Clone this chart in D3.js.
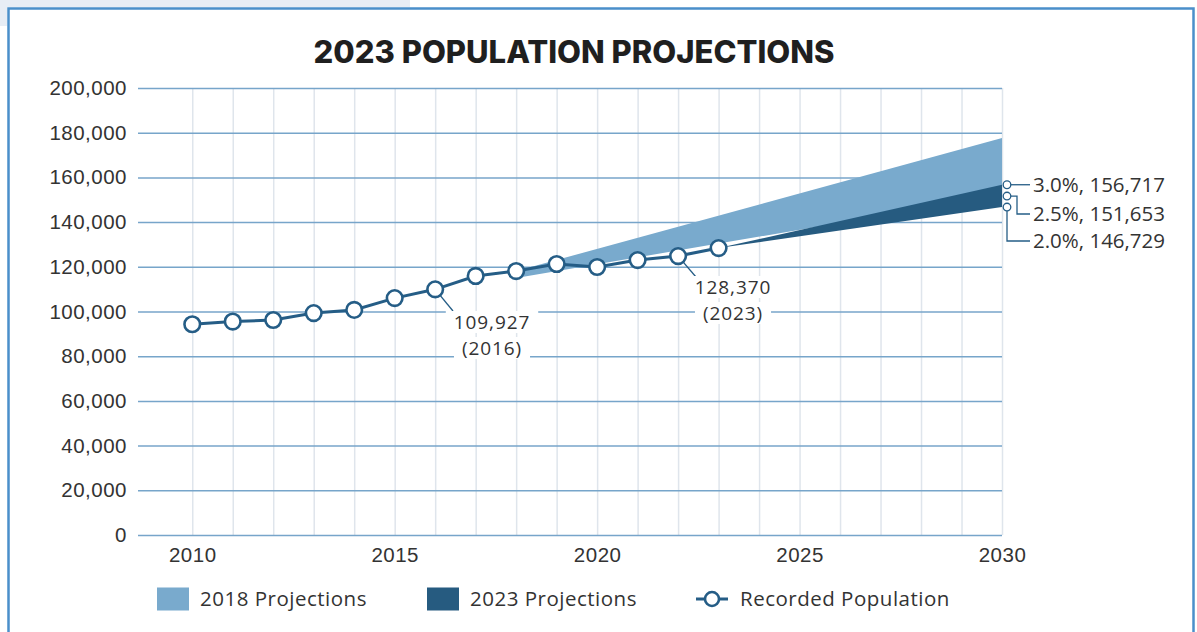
<!DOCTYPE html>
<html>
<head>
<meta charset="utf-8">
<title>2023 Population Projections</title>
<script src="https://d3js.org/d3.v7.min.js"></script>
<style>
  body, html { margin: 0; padding: 0; background: #fff; }
  svg { display: block; font-family: "Open Sans", sans-serif; }
  .lbl, .tick text { fill: #333; font-size: 20.5px; letter-spacing: 0.5px; }
  .note { fill: #333; font-size: 19px; letter-spacing: 0.9px; }
</style>
</head>
<body>
<svg width="1197" height="632"></svg>
<script>
  // Recorded population
  const years = [2010, 2011, 2012, 2013, 2014, 2015, 2016, 2017, 2018, 2019, 2020, 2021, 2022, 2023];
  const recorded = [94300, 95500, 96200, 99300, 100700, 106000, 109927, 115900, 118100, 121250, 119900, 123000, 124800, 128370];

  // Projection bands (start and end of each band)
  const proj2018Years = [2018, 2030];
  const proj2018Low = [115000, 152000];
  const proj2018High = [118100, 177600];
  const proj2023Years = [2023, 2030];
  const proj2023Low = [128370, 146729];
  const proj2023High = [128370, 156717];

  // End-of-range labels
  const endValues = [156717, 151653, 146729];
  const endLabels = ["3.0%, 156,717", "2.5%, 151,653", "2.0%, 146,729"];

  const yTicks = d3.range(0, 200001, 20000);
  const xLabelTicks = [2010, 2015, 2020, 2025, 2030];
  const gridYears = d3.range(2010, 2031);
  const legendItems = ["2018 Projections", "2023 Projections", "Recorded Population"];

  const lightBlue = "#79aacd", darkBlue = "#265b80", lineBlue = "#255d86";

  const svg = d3.select("svg");

  // frame
  svg.append("rect").attr("x", 0).attr("y", 0).attr("width", 410).attr("height", 7).attr("fill", "#e7edf5");
  svg.append("rect").attr("x", 0).attr("y", 0).attr("width", 7).attr("height", 26).attr("fill", "#e7edf5");
  svg.append("rect").attr("x", 8.5).attr("y", 8.5).attr("width", 1185).attr("height", 660)
    .attr("fill", "none").attr("stroke", "#4a8fca").attr("stroke-width", 2.5);

  const x = d3.scaleLinear().domain([2008.66, 2030]).range([138, 1002]);
  const y = d3.scaleLinear().domain([0, 200000]).range([535, 88]);

  svg.append("text")
    .attr("x", 574).attr("y", 63)
    .attr("text-anchor", "middle")
    .attr("font-family", "Inter, sans-serif")
    .attr("font-weight", 800)
    .attr("font-size", 31)
    .attr("fill", "#1f1f1f")
    .text("2023 POPULATION PROJECTIONS");

  // vertical grid
  const xGrid = svg.append("g").attr("transform", `translate(0,535)`)
    .call(d3.axisBottom(x).tickValues(gridYears).tickSize(-(535 - 88)).tickFormat(""));
  xGrid.select(".domain").remove();
  xGrid.selectAll("line").attr("stroke", "#dfe5ec").attr("stroke-width", 1.5);

  // horizontal grid + y labels
  const yAxis = svg.append("g").attr("transform", `translate(138,0)`)
    .call(d3.axisLeft(y).tickValues(yTicks).tickSize(-(1002 - 138)).tickPadding(11)
      .tickFormat(d3.format(",")));
  yAxis.select(".domain").remove();
  yAxis.selectAll("line").attr("stroke", "#77a5ca").attr("stroke-width", 1.5);

  // x labels
  const xAxis = svg.append("g").attr("transform", `translate(0,535)`)
    .call(d3.axisBottom(x).tickValues(xLabelTicks).tickSize(0).tickPadding(12).tickFormat(d3.format("d")));
  xAxis.select(".domain").remove();

  // annotations (white boxes cut through grid)
  const annotations = [
    { from: 2016, lines: ["109,927", "(2016)"], tx: 492, ty: 322, leader: [453, 311] },
    { from: 2022, lines: ["128,370", "(2023)"], tx: 733, ty: 287, leader: [696, 277] }
  ];
  const lineGap = 26;

  // bands
  const area = d3.area().x(d => x(d[0])).y0(d => y(d[1])).y1(d => y(d[2]));
  svg.append("path")
    .datum(proj2018Years.map((yr, i) => [yr, proj2018Low[i], proj2018High[i]]))
    .attr("d", area).attr("fill", lightBlue);
  svg.append("path")
    .datum(proj2023Years.map((yr, i) => [yr, proj2023Low[i], proj2023High[i]]))
    .attr("d", area).attr("fill", darkBlue);

  // recorded line
  const pts = years.map((yr, i) => [yr, recorded[i]]);
  svg.append("path").datum(pts)
    .attr("d", d3.line().x(d => x(d[0])).y(d => y(d[1])))
    .attr("fill", "none").attr("stroke", lineBlue).attr("stroke-width", 3);

  // annotation leaders + labels
  annotations.forEach(a => {
    const i = years.indexOf(a.from);
    const cx = x(years[i]), cy = y(recorded[i]);
    svg.append("line")
      .attr("x1", cx).attr("y1", cy).attr("x2", a.leader[0]).attr("y2", a.leader[1])
      .attr("stroke", lineBlue).attr("stroke-width", 1.3);
    const g = svg.append("g");
    const bg = g.append("g");
    const txt = g.append("text").attr("class", "note").attr("text-anchor", "middle");
    a.lines.forEach((t, k) => {
      const ts = txt.append("tspan").attr("x", a.tx).attr("y", a.ty + k * lineGap).attr("dy", "0.35em").text(t);
      const w = ts.node().getComputedTextLength();
      bg.append("rect").attr("x", a.tx - w / 2 - 8).attr("y", a.ty + k * lineGap - 11)
        .attr("width", w + 16).attr("height", 22).attr("fill", "#fff");
    });
  });

  svg.selectAll(".rec").data(pts).join("circle")
    .attr("class", "rec")
    .attr("cx", d => x(d[0])).attr("cy", d => y(d[1])).attr("r", 7.8)
    .attr("fill", "#fff").attr("stroke", lineBlue).attr("stroke-width", 2.6);

  // end labels on the right
  const ex = x(2030) + 5;
  const labelYs = [y(endValues[0]), 214, 241];
  endValues.forEach((v, i) => {
    const cy = y(v), ty = labelYs[i];
    let pts2;
    if (i === 0) pts2 = [[ex + 4, cy], [1030, ty]];
    else if (i === 1) pts2 = [[ex + 4, cy], [1017, cy], [1017, ty], [1030, ty]];
    else pts2 = [[ex, cy + 4], [ex, ty], [1030, ty]];
    svg.append("path").attr("d", d3.line()(pts2))
      .attr("fill", "none").attr("stroke", lineBlue).attr("stroke-width", 1.3);
    svg.append("text").attr("class", "lbl").attr("x", 1033).attr("y", ty).attr("dy", "0.35em")
      .style("letter-spacing", "0px").text(endLabels[i]);
  });
  svg.selectAll(".endpt").data(endValues).join("circle")
    .attr("class", "endpt")
    .attr("cx", ex).attr("cy", d => y(d)).attr("r", 3.8)
    .attr("fill", "#fff").attr("stroke", lineBlue).attr("stroke-width", 1.3);

  // legend
  const legendX = [157, 427, 696];
  const lg = svg.append("g").attr("transform", "translate(0,599)");
  legendItems.forEach((name, i) => {
    const gx = legendX[i];
    if (i < 2) {
      lg.append("rect").attr("x", gx).attr("y", -11.5).attr("width", 32).attr("height", 23)
        .attr("fill", i === 0 ? lightBlue : darkBlue);
    } else {
      lg.append("line").attr("x1", gx).attr("x2", gx + 32).attr("y1", 0).attr("y2", 0)
        .attr("stroke", lineBlue).attr("stroke-width", 3);
      lg.append("circle").attr("cx", gx + 16).attr("cy", 0).attr("r", 7)
        .attr("fill", "#fff").attr("stroke", lineBlue).attr("stroke-width", 2.6);
    }
    lg.append("text").attr("class", "lbl").attr("x", gx + (i < 2 ? 43 : 44)).attr("y", 0).attr("dy", "0.35em")
      .text(name);
  });
</script>
</body>
</html>
